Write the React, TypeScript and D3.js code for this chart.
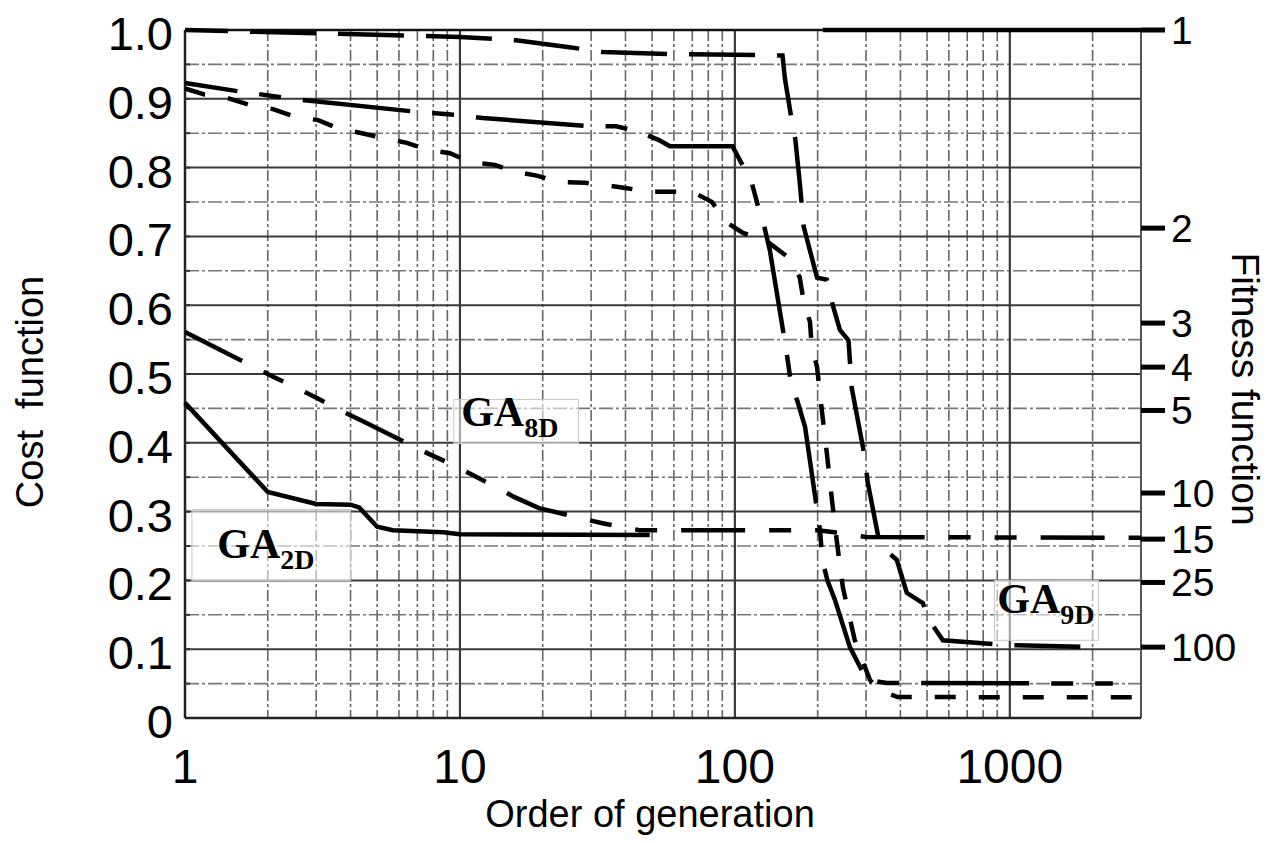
import React from "react";
import * as d3 from "d3";

// ---------- data ----------
const xTickValues = [1, 10, 100, 1000];
const xTickLabels = ["1", "10", "100", "1000"];
const yTickValues = [0, 0.1, 0.2, 0.3, 0.4, 0.5, 0.6, 0.7, 0.8, 0.9, 1.0];
const yTickLabels = ["0", "0.1", "0.2", "0.3", "0.4", "0.5", "0.6", "0.7", "0.8", "0.9", "1.0"];
const fitnessLabels = ["1", "2", "3", "4", "5", "10", "15", "25", "100"];
const fitnessCostPos = [1.0, 0.712, 0.574, 0.51, 0.447, 0.327, 0.26, 0.197, 0.103];

// top long-dashed curve (ends at GA9D level)
const seriesTop: [number, number][] = [
  [1, 1.0], [10, 0.99], [16, 0.985], [25, 0.975], [33, 0.968], [60, 0.965], [100, 0.964],
  [149, 0.963], [152, 0.93], [160, 0.875], [166, 0.84], [172, 0.78], [178, 0.714],
  [199, 0.64], [216, 0.637], [227, 0.6], [241, 0.564], [259, 0.549], [266, 0.48],
  [297, 0.379], [304, 0.343], [337, 0.251], [388, 0.23], [422, 0.182], [483, 0.167],
  [503, 0.145], [571, 0.113], [984, 0.106], [2125, 0.103],
];
// solid-ish (long-short dash) curve from 0.92
const seriesMid: [number, number][] = [
  [1, 0.923], [1.56, 0.911], [2.27, 0.902], [2.73, 0.898], [7, 0.881], [10.2, 0.876],
  [12.1, 0.872], [30.4, 0.86], [37, 0.86], [44, 0.853], [53, 0.84], [58, 0.831],
  [98, 0.831], [115, 0.779], [121, 0.746], [128, 0.714], [134, 0.68], [151, 0.554],
  [155, 0.525], [160, 0.487], [169, 0.46], [180, 0.423], [204, 0.273], [208, 0.23],
  [217, 0.2], [231, 0.172], [262, 0.103], [302, 0.055], [357, 0.051], [2370, 0.05],
];
// short-dashed curve from 0.915
const seriesDash: [number, number][] = [
  [1, 0.915], [1.18, 0.906], [1.43, 0.901], [1.72, 0.891], [2.09, 0.885], [2.51, 0.874],
  [3.05, 0.869], [3.6, 0.857], [4.4, 0.85], [5.25, 0.843], [6.41, 0.836], [7.59, 0.826],
  [9.2, 0.821], [10.9, 0.808], [13.4, 0.804], [15.85, 0.794], [19.2, 0.788], [22.7, 0.779],
  [28.5, 0.778], [33.1, 0.775], [40.5, 0.77], [48.3, 0.765], [70, 0.765], [82.5, 0.75],
  [93.5, 0.72], [107, 0.705], [128.5, 0.695], [156, 0.67], [172, 0.641], [178, 0.605],
  [187.5, 0.576], [190.5, 0.539], [199, 0.51], [207, 0.448], [216, 0.385], [225, 0.32],
  [235, 0.256], [247, 0.19], [273, 0.113], [310, 0.055], [336, 0.04], [391, 0.0305],
  [3000, 0.03],
];
// GA2D (solid)
const seriesGA2D: [number, number][] = [
  [1, 0.458], [2, 0.3285], [3, 0.311], [4, 0.31], [4.3, 0.306], [5, 0.278], [5.7, 0.273],
  [8.7, 0.27], [10, 0.267], [49, 0.266],
];
// GA8D (long dash + two short dashes)
const seriesGA8D: [number, number][] = [
  [1, 0.561], [1.69, 0.515], [2.09, 0.496], [2.51, 0.481], [3.02, 0.465], [3.6, 0.449],
  [4.4, 0.432], [7.6, 0.385], [9.3, 0.369], [10.9, 0.355], [13.3, 0.337], [15.8, 0.321],
  [19.4, 0.305], [33, 0.283], [45, 0.273], [200, 0.273], [230, 0.27], [300, 0.263],
  [3000, 0.262],
];
// thick line along the top edge
const seriesTopEdge: [number, number][] = [[209, 1.0], [3000, 1.0]];

const labels = [
  { main: "GA", sub: "2D", x: 1.31, y: 0.232, box: [1.06, 4.0, 0.303, 0.2] },
  { main: "GA", sub: "8D", x: 10.1, y: 0.424, box: [9.5, 27, 0.463, 0.399] },
  { main: "GA", sub: "9D", x: 900, y: 0.152, box: [880, 2100, 0.2, 0.113] },
];

// ---------- layout ----------
const W = 1270;
const H = 843;
const L = 185;
const R = 1141;
const T = 30;
const B = 718;

export default function App() {
  const x = d3.scaleLog().domain([1, 3000]).range([L, R]);
  const y = d3.scaleLinear().domain([0, 1]).range([B, T]);
  const line = d3
    .line<[number, number]>()
    .x((d) => x(d[0]))
    .y((d) => y(d[1]))
    .curve(d3.curveLinear);

  const minorX: number[] = [];
  [1, 10, 100, 1000].forEach((k) => {
    for (let m = 2; m <= 9; m++) {
      const v = m * k;
      if (v < 3000) minorX.push(v);
    }
  });
  const majorY = d3.range(1, 10).map((i) => i / 10);
  const minorY = d3.range(0, 10).map((i) => i / 10 + 0.05);
  const smallTicks = d3.range(1, 20).map((i) => i / 20);

  const sans = "'Liberation Sans', Arial, sans-serif";
  const serif = "'Liberation Serif', 'Times New Roman', serif";

  return (
    <svg
      width={W}
      height={H}
      style={{ position: "absolute", left: 0, top: 0, background: "#fff" }}
    >
      <rect x={0} y={0} width={W} height={H} fill="#fff" />
      {/* minor grid */}
      {minorX.map((v) => (
        <line
          key={"mx" + v}
          x1={x(v)}
          x2={x(v)}
          y1={T}
          y2={B}
          stroke="#666"
          strokeWidth={1.6}
          strokeDasharray="11 3 3 3"
        />
      ))}
      {minorY.map((v) => (
        <line
          key={"my" + v}
          x1={L}
          x2={R}
          y1={y(v)}
          y2={y(v)}
          stroke="#777"
          strokeWidth={1.6}
          strokeDasharray="14 3 3 3"
        />
      ))}
      {/* major grid */}
      {majorY.map((v) => (
        <line
          key={"My" + v}
          x1={L}
          x2={R}
          y1={y(v)}
          y2={y(v)}
          stroke="#3a3a3a"
          strokeWidth={2}
        />
      ))}
      {[10, 100, 1000].map((v) => (
        <line
          key={"Mx" + v}
          x1={x(v)}
          x2={x(v)}
          y1={T}
          y2={B}
          stroke="#3a3a3a"
          strokeWidth={2.2}
        />
      ))}

      {/* label boxes (fade the grid behind labels) */}
      {labels.map((lb, i) => (
        <rect
          key={"box" + i}
          x={x(lb.box[0])}
          y={y(lb.box[2])}
          width={x(lb.box[1]) - x(lb.box[0])}
          height={y(lb.box[3]) - y(lb.box[2])}
          fill="#fff"
          fillOpacity={0.55}
          stroke="#c8c8c8"
          strokeWidth={1}
        />
      ))}

      {/* frame */}
      <line x1={R} x2={R} y1={T} y2={B} stroke="#555" strokeWidth={2} />
      <line x1={L} x2={R} y1={T} y2={T} stroke="#111" strokeWidth={2.5} />
      <line x1={L} x2={R} y1={B} y2={B} stroke="#222" strokeWidth={2.5} />
      <line x1={L} x2={L} y1={T} y2={B} stroke="#222" strokeWidth={2.5} />
      {smallTicks.map((v) => (
        <line key={"st" + v} x1={L} x2={L + 5} y1={y(v)} y2={y(v)} stroke="#333" strokeWidth={2} />
      ))}

      {/* curves */}
      <path d={line(seriesTopEdge) || ""} fill="none" stroke="#000" strokeWidth={4.5} />
      <path
        d={line(seriesGA8D) || ""}
        fill="none"
        stroke="#000"
        strokeWidth={4.5}
        strokeDasharray="64 24 22 24 22 24"
      />
      <path d={line(seriesGA2D) || ""} fill="none" stroke="#000" strokeWidth={4.5} />
      <path
        d={line(seriesDash) || ""}
        fill="none"
        stroke="#000"
        strokeWidth={4.5}
        strokeDasharray="21 23"
      />
      <path
        d={line(seriesMid) || ""}
        fill="none"
        stroke="#000"
        strokeWidth={4.5}
        strokeDasharray="108 22 22 22"
        strokeDashoffset={55}
      />
      <path
        d={line(seriesTop) || ""}
        fill="none"
        stroke="#000"
        strokeWidth={4.5}
        strokeDasharray="66 22"
        strokeDashoffset={23}
      />

      {/* curve labels */}
      {labels.map((lb, i) => (
        <text
          key={"lb" + i}
          x={x(lb.x)}
          y={y(lb.y)}
          fontFamily={serif}
          fontWeight="bold"
          fontSize={42}
          fill="#000"
        >
          {lb.main}
          <tspan fontSize={28} dy={11}>
            {lb.sub}
          </tspan>
        </text>
      ))}

      {/* left axis labels */}
      {yTickValues.map((v, i) => (
        <text
          key={"yl" + v}
          x={173}
          y={y(v) + 20}
          textAnchor="end"
          fontFamily={sans}
          fontSize={47}
          fill="#000"
        >
          {yTickLabels[i]}
        </text>
      ))}
      {/* bottom axis labels */}
      {xTickValues.map((v, i) => (
        <text
          key={"xl" + v}
          x={x(v)}
          y={783}
          textAnchor="middle"
          fontFamily={sans}
          fontSize={48}
          fill="#000"
        >
          {xTickLabels[i]}
        </text>
      ))}
      {/* right fitness axis */}
      {fitnessCostPos.map((v, i) => (
        <g key={"fr" + i}>
          <line x1={R} x2={R + 24} y1={y(v)} y2={y(v)} stroke="#000" strokeWidth={5} />
          <text
            x={R + 30}
            y={y(v) + 14}
            fontFamily={sans}
            fontSize={39}
            fill="#000"
          >
            {fitnessLabels[i]}
          </text>
        </g>
      ))}

      {/* axis titles */}
      <text
        x={650}
        y={827}
        textAnchor="middle"
        fontFamily={sans}
        fontSize={38}
        fill="#000"
      >
        Order of generation
      </text>
      <text
        transform="translate(43,392) rotate(-90)"
        textAnchor="middle"
        fontFamily={sans}
        fontSize={38}
        fill="#000"
        style={{ whiteSpace: "pre" }}
      >
        {"Cost  function"}
      </text>
      <text
        transform="translate(1232,389) rotate(90)"
        textAnchor="middle"
        fontFamily={sans}
        fontSize={39}
        fill="#000"
      >
        Fitness function
      </text>
    </svg>
  );
}
